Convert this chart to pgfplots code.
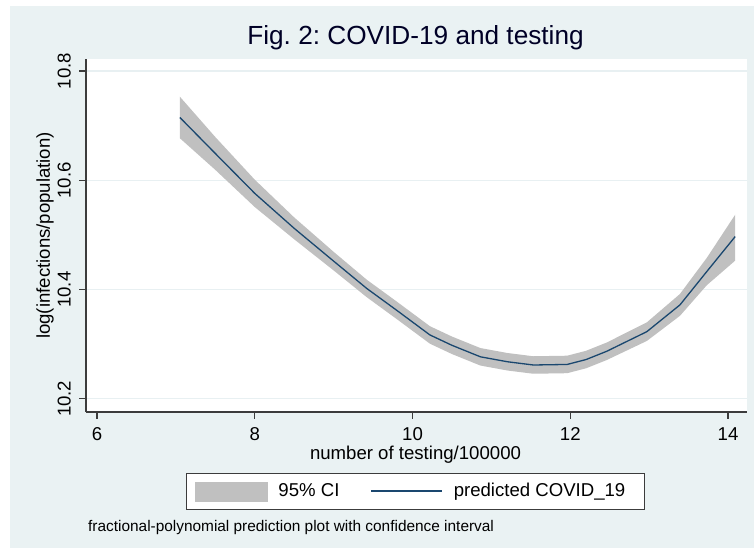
\documentclass[border=0pt]{standalone}
\usepackage{fontspec}
\setmainfont{Liberation Sans}
\usepackage{pgfplots}
\pgfplotsset{compat=1.18}
\usepackage{pgfplotstable}

\definecolor{bgblue}{RGB}{234,242,243}
\definecolor{navyline}{RGB}{26,71,111}
\definecolor{cigray}{RGB}{192,192,192}
\definecolor{gridc}{RGB}{232,240,242}
\definecolor{axisc}{RGB}{60,60,60}

\pgfplotstableread{
x     mid
7.05  10.715
7.50  10.649
8.00  10.576
8.50  10.512
9.00  10.452
9.42  10.402
9.80  10.362
10.22 10.317
10.50 10.298
10.86 10.277
11.20 10.268
11.53 10.262
11.96 10.263
12.20 10.272
12.46 10.287
12.97 10.323
13.39 10.372
13.73 10.433
14.09 10.497
}\fittable

% 95% CI band: upper bound left to right, then lower bound right to left
\pgfplotstableread{
x     y
7.05  10.753
7.50  10.679
8.00  10.601
8.50  10.532
9.00  10.469
9.42  10.418
9.80  10.378
10.22 10.333
10.50 10.314
10.86 10.293
11.20 10.284
11.53 10.278
11.96 10.279
12.20 10.288
12.46 10.303
12.97 10.340
13.39 10.392
13.73 10.458
14.09 10.537
14.09 10.453
13.73 10.408
13.39 10.352
12.97 10.306
12.46 10.271
12.20 10.256
11.96 10.247
11.53 10.246
11.20 10.252
10.86 10.261
10.50 10.282
10.22 10.301
9.80  10.346
9.42  10.386
9.00  10.435
8.50  10.492
8.00  10.551
7.50  10.619
7.05  10.677
}\bandtable

\begin{document}
\frenchspacing
\begin{tikzpicture}[x=1bp,y=1bp]
\fill[white] (0,0) rectangle (754,550);
\fill[bgblue] (10,2) rectangle (754,544);
\begin{axis}[
  at={(86bp,138bp)}, anchor=south west,
  scale only axis, width=661bp, height=353bp,
  xmin=5.86, xmax=14.24, ymin=10.176, ymax=10.822,
  axis x line*=bottom, axis y line*=left,
  axis line style={axisc, line width=1.2bp, -},
  axis background/.style={fill=white},
  xtick={6,8,10,12,14}, ytick={10.2,10.4,10.6,10.8},
  tick align=outside, major tick length=7bp,
  tick style={axisc, line width=1.2bp},
  minor tick num=0,
  ymajorgrids, grid style={gridc, line width=1.2bp},
  /pgf/number format/assume math mode=true,
  yticklabel={\pgfmathprintnumber[fixed,fixed zerofill,precision=1,assume math mode=true]{\tick}},
  ticklabel style={font=\fontsize{18.6bp}{22bp}\selectfont},
  xticklabel style={anchor=base},
  xticklabel shift=21.7bp,
  yticklabel style={rotate=90, anchor=base},
  yticklabel shift=8.3bp,
  title={Fig. 2: COVID-19 and testing},
  title style={at={(0.4985,1.0235)}, anchor=base, font=\fontsize{26.2bp}{30bp}\selectfont, text=black!85!blue, inner sep=0pt},
  xlabel={number of testing/100000},
  xlabel style={at={(0.4985,-0.1346)}, anchor=base, font=\fontsize{18.6bp}{22bp}\selectfont, inner sep=0pt},
  ylabel={log(infections/population)},
  ylabel style={at={(-0.0545,0.5)}, anchor=base, rotate=0, font=\fontsize{18.6bp}{22bp}\selectfont, inner sep=0pt},
  legend columns=2,
  legend style={at={(0.4985,-0.2252)}, anchor=center, draw=axisc, line width=0.8bp, fill=white,
    inner xsep=8bp, inner ysep=8bp,
    font=\fontsize{18.6bp}{22bp}\selectfont,
    nodes={inner sep=0pt, text height=13.4bp, text depth=3.6bp},
    cells={anchor=west},
    /tikz/every odd column/.append style={column sep=11bp},
    /tikz/every even column/.append style={column sep=31bp}},
]
\addplot[fill=cigray, draw=none, forget plot] table[x=x, y=y] {\bandtable} -- cycle;
\addplot[navyline, line width=1.3bp, forget plot] table[x=x, y=mid] {\fittable};
\addlegendimage{legend image code/.code={\fill[cigray] (0bp,-9.5bp) rectangle (72bp,9.5bp);}}
\addlegendentry{95\% CI}
\addlegendimage{legend image code/.code={\draw[navyline, line width=1.3bp] (0bp,0.5bp) -- (71bp,0.5bp);}}
\addlegendentry{predicted COVID\_19\hspace*{11bp}}
\end{axis}
\node[anchor=base west, inner sep=0pt, font=\fontsize{15.4bp}{18bp}\selectfont] at (88,18) {fractional-polynomial prediction plot with confidence interval};
\end{tikzpicture}
\end{document}
